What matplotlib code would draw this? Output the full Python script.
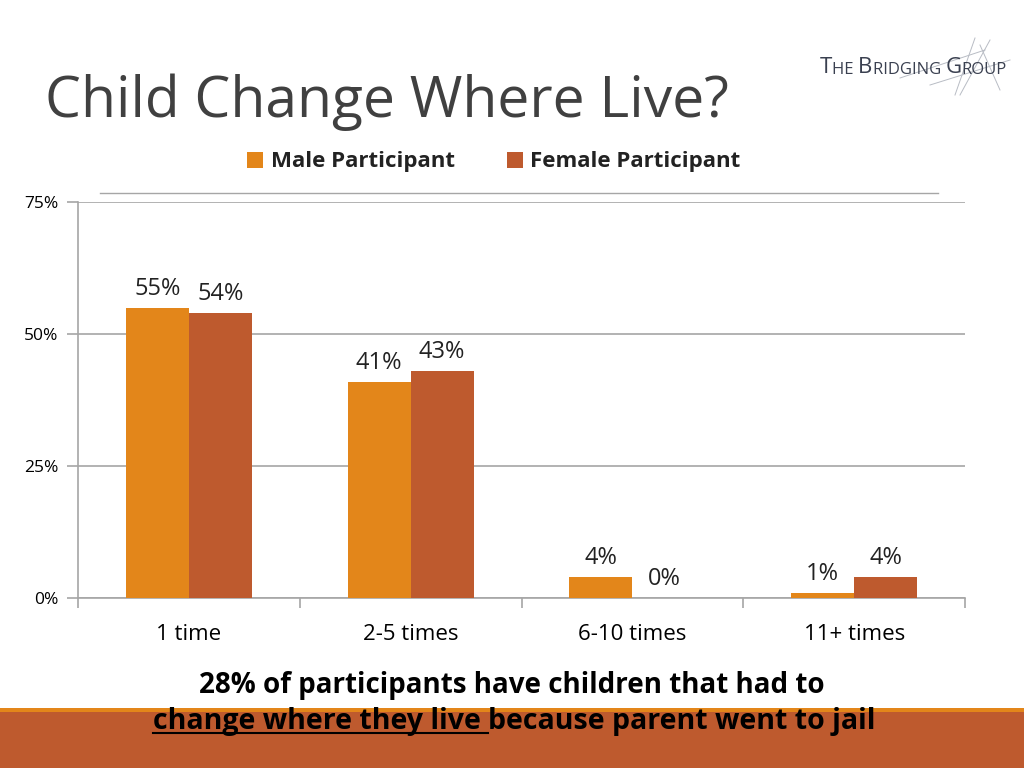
import matplotlib.pyplot as plt
import numpy as np
from matplotlib.lines import Line2D
from matplotlib.patches import Rectangle

categories = ['1 time', '2-5 times', '6-10 times', '11+ times']
male = [55, 41, 4, 1]
female = [54, 43, 0, 4]
yticks = [0, 25, 50, 75]
ytick_labels = ['0%', '25%', '50%', '75%']

male_color = '#E3861A'
female_color = '#BE5A2E'
grid_color = '#A6A6A6'

plt.rcParams['font.family'] = ['Open Sans', 'DejaVu Sans']

fig = plt.figure(figsize=(10.24, 7.68), dpi=100)
fig.patch.set_facecolor('white')

# bottom band
fig.add_artist(Rectangle((0, 0), 1, 56 / 768, transform=fig.transFigure,
                         facecolor=female_color, edgecolor='none', zorder=0))
fig.add_artist(Rectangle((0, 56 / 768), 1, 4 / 768, transform=fig.transFigure,
                         facecolor=male_color, edgecolor='none', zorder=0))

ax = fig.add_axes([78 / 1024, 1 - 598 / 768, 887 / 1024, 396 / 768])
x = np.arange(len(categories))
w = 0.284
b1 = ax.bar(x - w / 2, male, w, color=male_color, zorder=3)
b2 = ax.bar(x + w / 2, female, w, color=female_color, zorder=3)

for bars, vals in ((b1, male), (b2, female)):
    for r, v in zip(bars, vals):
        ax.annotate(f'{v}%', (r.get_x() + r.get_width() / 2, v),
                    xytext=(0, 5), textcoords='offset points',
                    ha='center', va='bottom', fontsize=17, color='#222222')

ax.set_xlim(-0.5, 3.5)
ax.set_ylim(0, 75)
ax.set_yticks(yticks)
ax.set_yticklabels(ytick_labels, fontsize=12.5)
ax.yaxis.grid(True, color=grid_color, linewidth=1.2, zorder=0)
ax.set_xticks(np.arange(-0.5, 4, 1))
ax.set_xticklabels([])
ax.set_xticks(x, minor=True)
ax.set_xticklabels(categories, minor=True, fontsize=16)
ax.tick_params(axis='x', which='minor', length=0, pad=19)
ax.tick_params(axis='x', which='major', length=7, color=grid_color, width=1.2)
ax.tick_params(axis='y', length=8, color=grid_color, width=1.2, pad=6)
for s in ['top', 'right']:
    ax.spines[s].set_visible(False)
for s in ['left', 'bottom']:
    ax.spines[s].set_color(grid_color)
    ax.spines[s].set_linewidth(1.2)

# title
fig.text(45 / 1024, 1 - 102 / 768, 'Child Change Where Live?', fontsize=41,
         fontweight='medium', color='#404040', ha='left', va='center')

# legend
fig.add_artist(Rectangle((247 / 1024, 1 - 168 / 768), 16 / 1024, 16 / 768,
                         transform=fig.transFigure, facecolor=male_color, edgecolor='none'))
fig.text(271 / 1024, 1 - 161 / 768, 'Male Participant', fontsize=16, fontweight='bold',
         ha='left', va='center', color='#222222')
fig.add_artist(Rectangle((507 / 1024, 1 - 168 / 768), 16 / 1024, 16 / 768,
                         transform=fig.transFigure, facecolor=female_color, edgecolor='none'))
fig.text(530 / 1024, 1 - 161 / 768, 'Female Participant', fontsize=16, fontweight='bold',
         ha='left', va='center', color='#222222')
fig.add_artist(Line2D([100 / 1024, 938 / 1024], [1 - 193 / 768, 1 - 193 / 768],
                      color=grid_color, linewidth=1.0))

# logo (small caps imitation)
fig.canvas.draw()
xpos = 820 / 1024
for part, big in [('T', True), ('HE ', False), ('B', True), ('RIDGING ', False),
                  ('G', True), ('ROUP', False)]:
    t = fig.text(xpos, 1 - 70 / 768, part, fontsize=16 if big else 12, color='#3A4050',
                 ha='left', va='baseline' if False else 'center')
    t.set_va('bottom')
    t.set_y(1 - 78 / 768)
    fig.canvas.draw()
    xpos = t.get_window_extent().transformed(fig.transFigure.inverted()).x1
for (x0, y0, x1, y1) in [(975, 38, 955, 95), (980, 45, 1000, 90), (900, 78, 985, 50),
                         (930, 85, 1010, 60), (960, 95, 990, 40)]:
    fig.add_artist(Line2D([x0 / 1024, x1 / 1024], [1 - y0 / 768, 1 - y1 / 768],
                          color='#B8BCC4', linewidth=0.7))

# bottom caption
fig.text(512 / 1024, 1 - 685 / 768, '28% of participants have children that had to',
         fontsize=20, fontweight='bold', ha='center', va='center', color='black')
t1 = fig.text(153 / 1024, 1 - 722 / 768, 'change where they live ', fontsize=20.5,
              fontweight='bold', ha='left', va='center', color='black')
fig.canvas.draw()
bb = t1.get_window_extent().transformed(fig.transFigure.inverted())
fig.text(bb.x1, 1 - 722 / 768, 'because parent went to jail', fontsize=20.5,
         fontweight='bold', ha='left', va='center', color='black')
fig.add_artist(Line2D([bb.x0, bb.x1], [bb.y0 + 0.004, bb.y0 + 0.004],
                      color='black', linewidth=1.5))

fig.savefig('out.png', dpi=100)
